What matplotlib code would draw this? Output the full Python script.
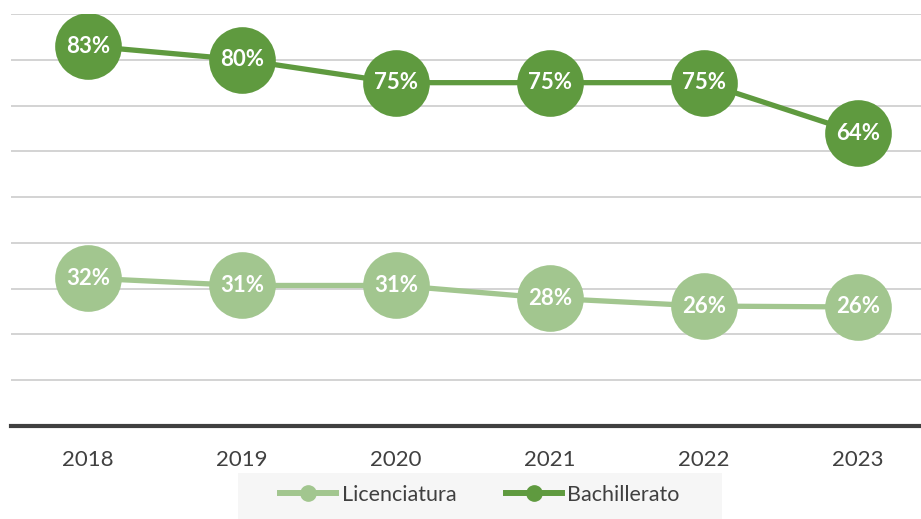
import matplotlib
matplotlib.use("Agg")
import matplotlib.pyplot as plt
from matplotlib.lines import Line2D
from matplotlib.patches import Rectangle

years = ["2018", "2019", "2020", "2021", "2022", "2023"]
licenciatura = [32.3, 30.7, 30.7, 27.9, 26.2, 26.0]
bachillerato = [83.0, 80.0, 75.0, 75.0, 75.0, 64.0]
series_names = ["Licenciatura", "Bachillerato"]

c_light = "#a2c68f"
c_dark = "#5f9a3f"

plt.rcParams['font.family'] = ['Lato', 'DejaVu Sans']

fig = plt.figure(figsize=(9.21, 5.19), dpi=100)
ax = fig.add_axes([11/921, 1 - 426/519, 924/921, (426 - 14)/519])

x = list(range(len(years)))
for vals, col in [(licenciatura, c_light), (bachillerato, c_dark)]:
    ax.plot(x, vals, color=col, lw=3.8, marker='o', markersize=48,
            markeredgewidth=0, zorder=3, solid_capstyle='butt')
    for xi, v in zip(x, vals):
        ax.text(xi, v, f"{round(v):.0f}%", ha='center', va='center',
                color='white', fontsize=16, fontweight='bold', zorder=4)

ax.set_xlim(-0.5, len(years) - 0.5)
ax.set_ylim(0, 90)
ax.set_yticks(range(10, 91, 10))
ax.yaxis.grid(True, color='#d0d0d0', lw=1.3)
ax.set_axisbelow(True)
ax.tick_params(axis='y', left=False, labelleft=False)
ax.set_xticks(x)
ax.set_xticklabels(years, fontsize=16, color='#404040')
ax.tick_params(axis='x', length=0, pad=17)
for s in ['top', 'right', 'left']:
    ax.spines[s].set_visible(False)
ax.spines['bottom'].set_color('#404040')
ax.spines['bottom'].set_linewidth(3)

# legend background box
fig.patches.append(Rectangle((238/921, 0), (722 - 238)/921, (519 - 473)/519,
                             transform=fig.transFigure, facecolor='#f6f6f6',
                             edgecolor='none', zorder=0))

handles = [Line2D([0], [0], color=c_light, lw=4.3, marker='o', markersize=11),
           Line2D([0], [0], color=c_dark, lw=4.3, marker='o', markersize=11)]
leg = fig.legend(handles, series_names, loc='center', bbox_to_anchor=(480/921, 1 - 495/519),
                 ncol=2, frameon=False, fontsize=15.5, handlelength=2.6, handletextpad=0.25,
                 columnspacing=2.3)
for t in leg.get_texts():
    t.set_color('#404040')

fig.savefig("out.png", dpi=100)
